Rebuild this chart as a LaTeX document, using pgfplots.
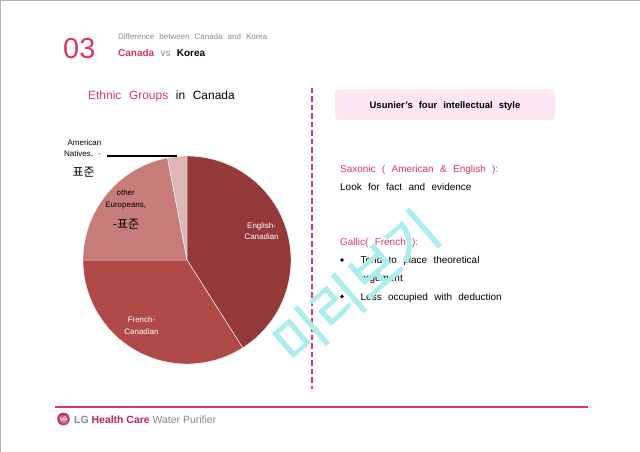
\documentclass[border=0pt]{standalone}
\usepackage{pgfplots}
\pgfplotsset{compat=1.18}
\usepackage{pgfplotstable}
\usepackage{fontspec}
\setmainfont{Liberation Sans}[WordSpace=2.3]
\newfontfamily\plain{Liberation Sans}
\newfontfamily\kr{Noto Sans CJK KR}
\newfontfamily\krw{Noto Sans CJK KR}[FakeBold=1.6]
\definecolor{pinkT}{HTML}{D63A5E}
\definecolor{pinkL}{HTML}{D8346A}
\definecolor{grayT}{HTML}{8A8A8A}
\definecolor{boxF}{HTML}{FCE6F1}
\definecolor{cEng}{HTML}{943A3A}
\definecolor{cFre}{HTML}{B04A48}
\definecolor{cOth}{HTML}{C87C7A}
\definecolor{cNat}{HTML}{DDB6B6}
\definecolor{wm}{HTML}{AEEDED}
\definecolor{hc}{HTML}{B42454}
\pgfplotstableread{
label value
English 41
French 34
Other 22
Natives 3
}\piedata
\newcommand\fs[1]{\fontsize{#1}{#1}\selectfont}
\begin{document}
\begin{tikzpicture}[x=1bp,y=1bp]
\useasboundingbox (0,0) rectangle (640,-452);
\fill[white] (0,0) rectangle (640,-452);
\draw[gray!60, line width=1.2bp] (0.6,-452) -- (0.6,-0.6) -- (640,-0.6);
% header
\node[anchor=base west, inner sep=0, text=pinkT, font=\plain\fs{29}] at (63,-59) {03};
\node[anchor=base west, inner sep=0, text=grayT, font=\fs{8}] at (118,-39.5) {Difference between Canada and Korea};
\node[anchor=base west, inner sep=0, font=\fs{10}] at (118,-56.5) {\textbf{\color{pinkT}Canada} {\color{grayT}vs} \textbf{Korea}};
\node[anchor=base west, inner sep=0, font=\fs{12}] at (88,-100) {{\color{pinkT}Ethnic Groups} in Canada};
% dashed divider
\draw[pinkL, line width=2bp, dash pattern=on 5.5bp off 3bp] (312,-88) -- (312,-389);
% right box
\fill[boxF, rounded corners=4bp] (335,-89.3) rectangle (555,-120);
\node[anchor=base, inner sep=0, font=\bfseries\fs{9.5}] at (445,-108.3) {Usunier’s four intellectual style};
\node[anchor=base west, inner sep=0, text=pinkT, font=\fs{10}] at (340,-172.7) {Saxonic ( American \& English ):};
\node[anchor=base west, inner sep=0, font=\fs{10}] at (340,-191) {Look for fact and evidence};
\node[anchor=base west, inner sep=0, text=pinkT, font=\fs{10}] at (340,-245.7) {Gallic( French ):};
\fill (342,-260) circle (1.8bp);
\node[anchor=base west, inner sep=0, font=\fs{10}] at (360.5,-264) {Tend to place theoretical};
\node[anchor=base west, inner sep=0, font=\fs{10}] at (360.5,-282) {argument};
\fill (342,-296.5) circle (1.8bp);
\node[anchor=base west, inner sep=0, font=\fs{10}] at (360.5,-300.7) {Less occupied with deduction};
% pie
\pgfplotstablegetelem{0}{value}\of\piedata\edef\vA{\pgfplotsretval}
\pgfplotstablegetelem{1}{value}\of\piedata\edef\vB{\pgfplotsretval}
\pgfplotstablegetelem{2}{value}\of\piedata\edef\vC{\pgfplotsretval}
\pgfplotstablegetelem{3}{value}\of\piedata\edef\vD{\pgfplotsretval}
\pgfmathsetmacro\aA{90}
\pgfmathsetmacro\aB{\aA-3.6*\vA}
\pgfmathsetmacro\aC{\aB-3.6*\vB}
\pgfmathsetmacro\aD{\aC-3.6*\vC}
\pgfmathsetmacro\aE{\aD-3.6*\vD}
\begin{axis}[at={(187bp,-260bp)}, anchor=center, x=1bp, y=1bp,
  xmin=-106, xmax=106, ymin=-106, ymax=106, hide axis, clip=false]
\addplot[fill=cEng, draw=white, line width=0.4bp, domain=\aB:\aA, samples=80] ({104*cos(x)},{104*sin(x)}) -- (axis cs:0,0) -- cycle;
\addplot[fill=cFre, draw=white, line width=0.4bp, domain=\aC:\aB, samples=80] ({104*cos(x)},{104*sin(x)}) -- (axis cs:0,0) -- cycle;
\addplot[fill=cOth, draw=white, line width=0.4bp, domain=\aD:\aC, samples=60] ({104*cos(x)},{104*sin(x)}) -- (axis cs:0,0) -- cycle;
\addplot[fill=cNat, draw=white, line width=0.4bp, domain=\aE:\aD, samples=10] ({104*cos(x)},{104*sin(x)}) -- (axis cs:0,0) -- cycle;
\end{axis}
% pie labels
\node[anchor=base, inner sep=0, font=\fs{8}] at (84.5,-145.7) {American};
\node[anchor=base west, inner sep=0, font=\fs{8}] at (64,-156.7) {Natives, -};
\draw[black, line width=1.1bp] (106.7,-156) -- (177,-156);
\node[anchor=base west, inner sep=0, font=\kr\fs{12}] at (72.5,-177) {표준};
\node[anchor=base, inner sep=0, font=\fs{8}] at (125.7,-195.5) {other};
\node[anchor=base, inner sep=0, font=\fs{8}] at (125.7,-207.7) {Europeans,};
\node[anchor=base, inner sep=0, font=\kr\fs{12}] at (126,-229) {-표준};
\node[anchor=base, inner sep=0, text=white, font=\fs{8}] at (261.6,-228.7) {English-};
\node[anchor=base, inner sep=0, text=white, font=\fs{8}] at (261.6,-240) {Canadian};
\node[anchor=base, inner sep=0, text=white, font=\fs{8}] at (141.5,-322.3) {French-};
\node[anchor=base, inner sep=0, text=white, font=\fs{8}] at (141.5,-334) {Canadian};
% footer
\draw[pinkL, line width=1.5bp] (55,-407) -- (588,-407);
\shade[inner color=pinkT!40, outer color=hc] (63.5,-419) circle (6.3bp);
\node[text=white, font=\bfseries\fs{5}, inner sep=0] at (63.5,-419) {LG};
\node[anchor=base west, inner sep=0, font=\plain\fs{10.5}] at (74,-423) {\textcolor{grayT}{\bfseries LG} \textcolor{hc}{\bfseries Health Care} \textcolor{grayT}{Water Purifier}};
% watermark
\node[rotate=41, text=wm, font=\krw\fs{54}, inner sep=0] at (356,-287) {미리보기};
\end{tikzpicture}
\end{document}
